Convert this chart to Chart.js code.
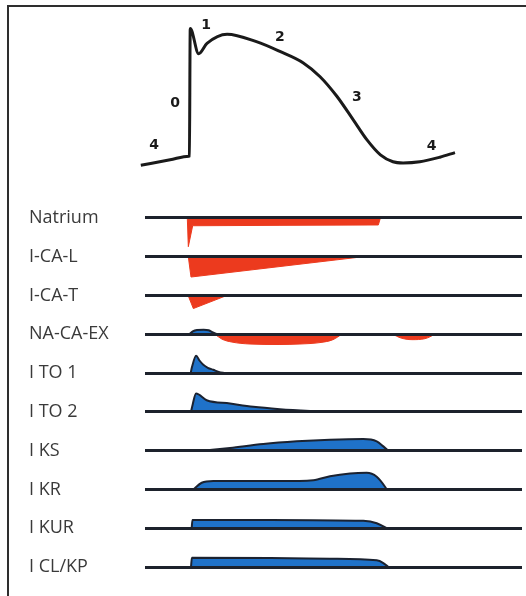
<!DOCTYPE html>
<html>
<head>
<meta charset="utf-8">
<script src="https://cdn.jsdelivr.net/npm/chart.js@4"></script>
<style>
  html, body { margin: 0; background: #fff; overflow: hidden; }
  #wrap { position: relative; width: 526px; height: 596px; overflow: hidden; }
  #frame { position: absolute; left: 7px; top: 5px; right: -10px; bottom: -10px;
           border-left: 2px solid #2e2e2e; border-top: 2px solid #2e2e2e; }
  canvas { position: absolute; left: 0; top: 0; }
</style>
</head>
<body>
<div id="wrap">
  <div id="frame"></div>
  <canvas id="c" width="526" height="596"></canvas>
</div>
<script>
// action potential, time in ms, membrane voltage in mV
const AP_TIME = [-5, 30, 52.5, 53, 54, 64, 74, 98, 133, 161, 189, 209, 229, 249, 265, 281, 296, 308, 328, 352, 370];
const AP_MV = [-89, -84.3, -81.1, -81, 30, 8, 17, 25, 18.5, 10, 0, -12, -29, -50, -67, -80, -86, -87, -86, -82, -78];

const PHASE_TEXT = ['0', '1', '2', '3', '4', '4'];
const PHASE_TIME = [36, 73, 161, 253, 11, 342];
const PHASE_MV = [-35, 33, 22, -30, -72, -73];

const ROW_NAMES = ['Natrium', 'I-CA-L', 'I-CA-T', 'NA-CA-EX', 'I TO 1', 'I TO 2', 'I KS', 'I KR', 'I KUR', 'I CL/KP'];

// currents as [ms, relative amplitude]; negative = inward
const NATRIUM = [[50.5, 0], [51.7, -2.96], [56.9, -0.8], [160, -0.76], [278.5, -0.72], [281, 0]];
const CA_L = [[51.7, 0], [54.9, -2.09], [260, 0]];
const CA_T = [[51.5, 0], [57.7, -1.34], [97.5, 0]];
const NCX_OUT = [[52.9, 0], [57, 0.3], [62, 0.45], [70, 0.48], [76, 0.42], [81, 0.2], [86, 0]];
const NCX_IN = [[83.6, 0], [91.9, -0.5], [103.8, -0.8], [125.3, -1.0], [161.1, -1.05], [185, -1.0], [208.9, -0.85], [224.4, -0.55], [234.8, 0]];
const NCX_IN_LATE = [[296, 0], [304.4, -0.35], [318.7, -0.55], [334.2, -0.45], [346.1, 0]];
const ITO1 = [[54.5, 0], [56, 0.6], [61, 1.8], [65, 1.3], [69.6, 0.86], [75, 0.55], [81.5, 0.34], [88, 0.12], [95.5, 0]];
const ITO2 = [[54.9, 0], [57, 0.8], [60.9, 1.89], [73.6, 1.2], [101.5, 0.86], [129.3, 0.52], [161.1, 0.28], [197, 0.1], [224.8, 0]];
const IKS = [[69.6, 0], [101.5, 0.28], [141.2, 0.69], [181.1, 0.96], [220.8, 1.13], [260.6, 1.2], [276.6, 0.96], [284.5, 0.44], [290.4, 0]];
const IKR = [[57.7, 0], [67.7, 0.69], [81.5, 0.86], [113.4, 0.86], [161.1, 0.86], [200.9, 0.96], [220.8, 1.37], [244.7, 1.65], [264.6, 1.72], [276.6, 1.31], [286.5, 0.28], [288.5, 0]];
const IKUR = [[55.7, 0], [56.7, 0.86], [150, 0.86], [260.6, 0.76], [276.6, 0.52], [288.5, 0]];
const ICLKP = [[54.9, 0], [56, 0.96], [150, 0.93], [220.8, 0.86], [276.6, 0.69], [284.5, 0.41], [290.4, 0]];

const RED = '#ec3a1e';
const BLUE = '#1f72c9';
const OUTLINE = '#1b2230';
const INK = '#1d222c';
const LABEL_WIDTH = 116;

function current(data, row, colour, smooth) {
  return {
    data: data.map(([x, y]) => ({ x, y })),
    yAxisID: 'r' + row,
    fill: 'origin',
    backgroundColor: colour,
    borderColor: colour === BLUE ? OUTLINE : colour,
    borderWidth: colour === BLUE ? 2 : 1,
    pointRadius: 0,
    clip: false,
    tension: 0,
    cubicInterpolationMode: smooth ? 'monotone' : 'default'
  };
}

const datasets = [
  {
    data: AP_TIME.map((t, i) => ({ x: t, y: AP_MV[i] })),
    yAxisID: 'ap',
    borderColor: '#1a1a1a',
    borderWidth: 3,
    pointRadius: 0,
    fill: false,
    clip: false,
    cubicInterpolationMode: 'monotone'
  },
  current(NATRIUM, 0, RED, false),
  current(CA_L, 1, RED, false),
  current(CA_T, 2, RED, false),
  current(NCX_OUT, 3, BLUE, true),
  current(NCX_IN, 3, RED, true),
  current(NCX_IN_LATE, 3, RED, true),
  current(ITO1, 4, BLUE, true),
  current(ITO2, 5, BLUE, true),
  current(IKS, 6, BLUE, true),
  current(IKR, 7, BLUE, true),
  current(IKUR, 8, BLUE, true),
  current(ICLKP, 9, BLUE, true)
];

const fixWidth = s => { s.width = LABEL_WIDTH; s.paddingTop = 0; s.paddingBottom = 0; };

const scales = {
  x: { type: 'linear', min: 0, max: 450, display: false },
  ap: {
    type: 'linear', position: 'left', stack: 'rows', stackWeight: 4.863, weight: 20,
    min: -118, max: 46,
    afterFit: fixWidth,
    grid: { display: false },
    border: { display: false },
    ticks: { display: false }
  }
};

ROW_NAMES.forEach((name, i) => {
  scales['r' + i] = {
    type: 'linear',
    position: 'left',
    stack: 'rows',
    stackWeight: 1,
    weight: 19 - i,
    min: -2,
    max: 2,
    afterBuildTicks: s => { s.ticks = [{ value: 0 }]; },
    afterFit: fixWidth,
    grid: { color: INK, lineWidth: 3, drawTicks: false, z: 1 },
    border: { display: false },
    ticks: {
      callback: () => name,
      crossAlign: 'far',
      padding: 0,
      autoSkip: false,
      color: '#3a3a3a',
      font: { family: 'Open Sans', size: 18 }
    }
  };
});

const phaseLabels = {
  id: 'phaseLabels',
  afterDatasetsDraw(chart) {
    const { ctx, scales: { x, ap } } = chart;
    ctx.save();
    ctx.font = 'bold 14px "DejaVu Sans"';
    ctx.fillStyle = '#1a1a1a';
    ctx.textAlign = 'center';
    ctx.textBaseline = 'middle';
    PHASE_TEXT.forEach((txt, i) => {
      ctx.fillText(txt, x.getPixelForValue(PHASE_TIME[i]), ap.getPixelForValue(PHASE_MV[i]));
    });
    ctx.restore();
  }
};

new Chart(document.getElementById('c'), {
  type: 'line',
  data: { datasets },
  options: {
    responsive: false,
    animation: false,
    events: [],
    layout: { padding: { top: 10, bottom: 9.6, left: 29, right: 4 } },
    plugins: { legend: { display: false }, tooltip: { enabled: false } },
    scales
  },
  plugins: [phaseLabels]
});
</script>
</body>
</html>
